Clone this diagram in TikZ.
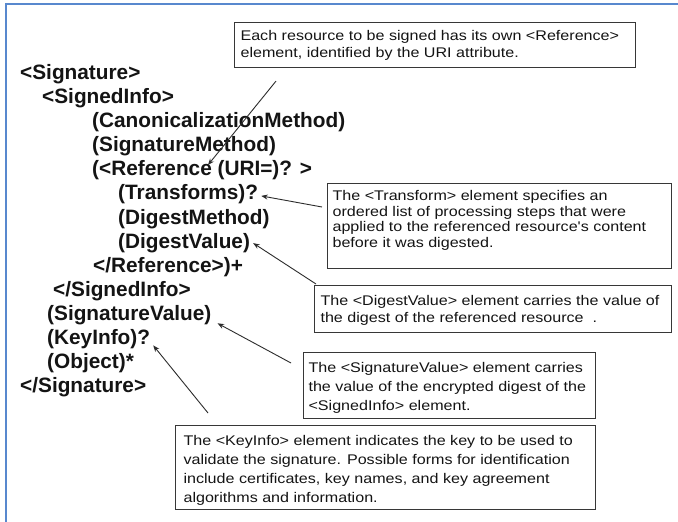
\documentclass[tikz,border=0pt]{standalone}
\usepackage{fontspec}
\setmainfont{Liberation Sans}
\newfontfamily\notefont[FakeStretch=1.15]{Liberation Sans}
\usetikzlibrary{arrows.meta,calc}

\definecolor{frameblue}{RGB}{88,136,206}
\definecolor{ink}{RGB}{20,20,20}

% text block of a callout: width, height, line skip, lines
\newcommand\calloutbody[4]{\parbox[t][#2][t]{#1}{\notefont\fontsize{14}{#3}\selectfont\strut #4}}

\tikzset{
  xml/.style={anchor=base west, inner sep=0pt, text=ink,
    font=\fontsize{20.8}{24}\selectfont\bfseries},
  note/.style={draw=ink!85, line width=1.1pt, anchor=north west, fill=white, text=ink},
  pointer/.style={draw=ink!90, line width=0.9pt,
    -{Stealth[length=6.5pt,width=5pt]}},
}

\begin{document}
\begin{tikzpicture}[x=1pt,y=-1pt]
\useasboundingbox (0,0) rectangle (678,522);
\fill[white] (0,0) rectangle (678,522);
% frame edges
\draw[frameblue, line width=1.8pt] (6,522) -- (6,4) -- (678,4);

% XML structure of a signature
\node[xml] (sig)  at (20, 79.5)  {<Signature>};
\node[xml] (si)   at (42, 103.6) {<SignedInfo>};
\node[xml] (cm)   at (92, 127.7) {(CanonicalizationMethod)};
\node[xml] (sm)   at (92, 151.7) {(SignatureMethod)};
\node[xml] (ref)  at (92, 175.8) {(<Reference (URI=)? >};
\node[xml] (tr)   at (118,199.9) {(Transforms)?};
\node[xml] (dm)   at (118,224.0) {(DigestMethod)};
\node[xml] (dv)   at (118,248.1) {(DigestValue)};
\node[xml] (eref) at (93, 272.1) {</Reference>)+};
\node[xml] (esi)  at (53, 296.2) {</SignedInfo>};
\node[xml] (sv)   at (47, 320.3) {(SignatureValue)};
\node[xml] (ki)   at (47, 344.4) {(KeyInfo)?};
\node[xml] (obj)  at (47, 368.5) {(Object)*};
\node[xml] (esig) at (20, 392.5) {</Signature>};

% callouts
\node[note, inner xsep=6pt, inner ysep=6.1pt] (nref) at (234,22)
  {\calloutbody{389pt}{32.8pt}{17pt}{%
   \mbox{Each resource to be signed has its own <Reference>}\\
   \mbox{element, identified by the URI attribute.}}};
\node[note, inner xsep=5pt, inner ysep=6.1pt] (ntr) at (327,183)
  {\calloutbody{334pt}{72.8pt}{15.6pt}{%
   \mbox{The <Transform> element specifies an}\\
   \mbox{ordered list of processing steps that were}\\
   \mbox{applied to the referenced resource's content}\\
   \mbox{before it was digested.}}};
\node[note, inner xsep=6pt, inner ysep=8.1pt] (ndv) at (314,285)
  {\calloutbody{345pt}{30.8pt}{17pt}{%
   \mbox{The <DigestValue> element carries the value of}\\
   \mbox{the digest of the referenced resource\ \ .}}};
\node[note, inner xsep=5pt, inner ysep=6.7pt] (nsv) at (303,352)
  {\calloutbody{282pt}{52.6pt}{19pt}{%
   \mbox{The <SignatureValue> element carries}\\
   \mbox{the value of the encrypted digest of the}\\
   \mbox{<SignedInfo> element.}}};
\node[note, inner xsep=8pt, inner ysep=6.7pt] (nki) at (175,425)
  {\calloutbody{404pt}{70.6pt}{19pt}{%
   \mbox{The <KeyInfo> element indicates the key to be used to}\\
   \mbox{validate the signature. Possible forms for identification}\\
   \mbox{include certificates, key names, and key agreement}\\
   \mbox{algorithms and information.}}};

% connector ends
\coordinate (refA) at ($(nref.south west)+(42,13)$);
\coordinate (refB) at (208,165);
\coordinate (trA)  at ($(ntr.north west)+(-5,24)$);
\coordinate (trB)  at ($(tr.base east)+(3,-4)$);
\coordinate (dvA)  at ($(ndv.north west)+(2,-1)$);
\coordinate (dvB)  at ($(dv.base east)+(3,-5)$);
\coordinate (svA)  at ($(nsv.north west)+(-12,11)$);
\coordinate (svB)  at ($(sv.base east)+(6,3)$);
\coordinate (kiA)  at ($(nki.north west)+(33,-12)$);
\coordinate (kiB)  at ($(ki.base east)+(3,1)$);

\draw[pointer] (refA) -- (refB);
\draw[pointer] (trA) -- (trB);
\draw[pointer] (dvA) -- (dvB);
\draw[pointer] (svA) -- (svB);
\draw[pointer] (kiA) -- (kiB);
\end{tikzpicture}
\end{document}
